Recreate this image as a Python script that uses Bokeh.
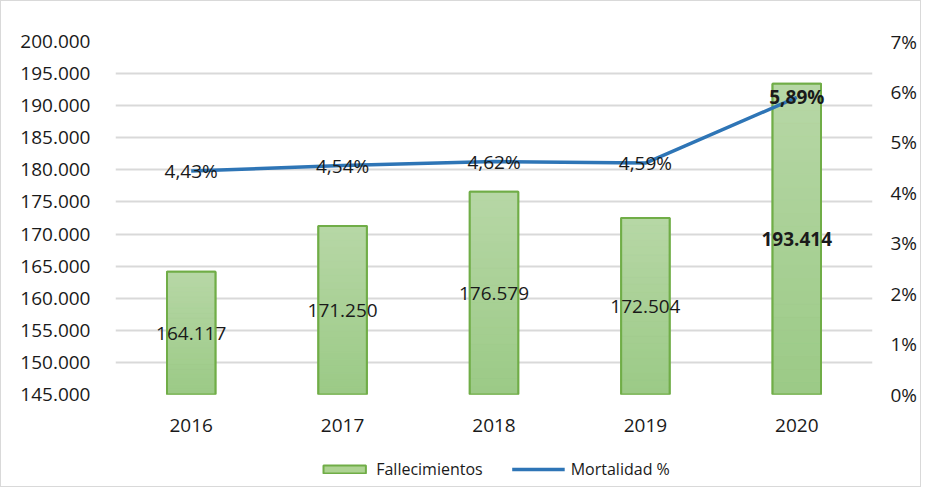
from bokeh.plotting import figure
from bokeh.layouts import column
from bokeh.models import (ColumnDataSource, Range1d, FactorRange, LinearAxis,
                          FixedTicker, Legend, LegendItem)
from bokeh.core.properties import value, field
from bokeh.embed import file_html
from bokeh.resources import INLINE

years = ["2016", "2017", "2018", "2019", "2020"]
deaths = [164117, 171250, 176579, 172504, 193414]
mortality = [4.43, 4.54, 4.62, 4.59, 5.89]
bar_labels = ["164.117", "171.250", "176.579", "172.504", "193.414"]
pct_labels = ["4,43%", "4,54%", "4,62%", "4,59%", "5,89%"]
bold_flags = ["normal", "normal", "normal", "normal", "bold"]
left_ticks = [145000, 150000, 155000, 160000, 165000, 170000, 175000,
              180000, 185000, 190000, 195000, 200000]
left_tick_labels = ["145.000", "150.000", "155.000", "160.000", "165.000",
                    "170.000", "175.000", "180.000", "185.000", "190.000",
                    "195.000", "200.000"]
right_ticks = [0, 1, 2, 3, 4, 5, 6, 7]
right_tick_labels = ["0%", "1%", "2%", "3%", "4%", "5%", "6%", "7%"]
series_names = ["Fallecimientos", "Mortalidad %"]

FONT = "Open Sans"
TXT = "#1a1a1a"
BASE = 145000
BAR_W = 0.32
TOP_RGB = (183, 215, 166)
BOT_RGB = (155, 202, 134)
N_SLICES = 24
NAN = float("nan")

src = ColumnDataSource(dict(
    x=years, top=deaths, bottom=[BASE] * len(years),
    mid=[(BASE + d) / 2 for d in deaths],
    blabel=bar_labels, pct=mortality, plabel=pct_labels, bold=bold_flags,
))

# vertical gradient slices derived from each bar's own extent
gx, gb, gt, gc = [], [], [], []
for yr, d in zip(years, deaths):
    for i in range(N_SLICES):
        f0 = i / N_SLICES
        f1 = (i + 1) / N_SLICES
        fm = (f0 + f1) / 2
        rgb = tuple(int(round(b + (t - b) * fm)) for b, t in zip(BOT_RGB, TOP_RGB))
        gx.append(yr)
        gb.append(BASE + (d - BASE) * f0)
        gt.append(BASE + (d - BASE) * f1)
        gc.append("#%02x%02x%02x" % rgb)
grad = ColumnDataSource(dict(x=gx, bottom=gb, top=gt, color=gc))

p = figure(width=919, height=440, x_range=FactorRange(*years),
           y_range=Range1d(145000, 200000), output_backend="svg",
           toolbar_location=None, min_border_left=114, min_border_right=39,
           min_border_top=40, min_border_bottom=47)
p.extra_y_ranges = {"pct": Range1d(0, 7)}
p.outline_line_color = None

p.xgrid.grid_line_color = None
p.ygrid.grid_line_color = "#d9d9d9"
p.ygrid.grid_line_width = 2
p.ygrid.ticker = FixedTicker(ticks=left_ticks)

p.vbar(x="x", top="top", bottom="bottom", width=BAR_W, source=src,
       fill_color="#a9d18e", line_color="#70ad47", line_width=2)
p.vbar(x="x", top="top", bottom="bottom", width=BAR_W, source=grad,
       fill_color="color", line_color="color", line_width=0.6)
p.vbar(x="x", top="top", bottom="bottom", width=BAR_W, source=src,
       fill_color=None, line_color="#70ad47", line_width=2)
p.line(x="x", y="pct", y_range_name="pct", source=src,
       line_color="#2e75b6", line_width=3.5)

p.text(x="x", y="mid", text="blabel", source=src, text_align="center",
       text_baseline="middle", text_font=value(FONT),
       text_font_size=value("19px"), text_color=TXT,
       text_font_style=field("bold"))
p.text(x="x", y="pct", text="plabel", y_range_name="pct", source=src,
       text_align="center", text_baseline="middle", text_font=value(FONT),
       text_font_size=value("19px"), text_color=TXT,
       text_font_style=field("bold"))

# left axis
ya = p.yaxis[0]
ya.ticker = FixedTicker(ticks=left_ticks)
ya.major_label_overrides = {t: l for t, l in zip(left_ticks, left_tick_labels)}
ya.axis_line_color = None
ya.major_tick_line_color = None
ya.minor_tick_line_color = None
ya.major_label_standoff = 19
ya.major_label_text_font = FONT
ya.major_label_text_font_size = "19px"
ya.major_label_text_color = TXT

# right axis
ra = LinearAxis(y_range_name="pct", ticker=FixedTicker(ticks=right_ticks))
ra.major_label_overrides = {t: l for t, l in zip(right_ticks, right_tick_labels)}
ra.axis_line_color = None
ra.major_tick_line_color = None
ra.minor_tick_line_color = None
ra.major_label_standoff = 12
ra.major_label_text_font = FONT
ra.major_label_text_font_size = "19px"
ra.major_label_text_color = TXT
p.add_layout(ra, "right")

xa = p.xaxis[0]
xa.axis_line_color = None
xa.major_tick_line_color = None
xa.major_label_standoff = 18
xa.major_label_text_font = FONT
xa.major_label_text_font_size = "19px"
xa.major_label_text_color = TXT

# legend strip: a small figure holding the legend swatches
lf = figure(width=919, height=45, x_range=Range1d(0, 1), y_range=Range1d(0, 1),
            x_axis_type=None, y_axis_type=None, output_backend="svg",
            toolbar_location=None, min_border_left=23, min_border_right=0,
            min_border_top=10, min_border_bottom=0)
lf.outline_line_color = None
lf.grid.grid_line_color = None
swatch_bar = ColumnDataSource(dict(x=[NAN], top=[NAN], bottom=[NAN]))
swatch_line = ColumnDataSource(dict(x=[NAN, NAN], y=[NAN, NAN]))
lb = lf.vbar(x="x", top="top", bottom="bottom", width=0.1, source=swatch_bar,
             fill_color="#aed393", line_color="#70ad47", line_width=2)
ll = lf.line(x="x", y="y", source=swatch_line, line_color="#2e75b6",
             line_width=3.5)
legend = Legend(items=[LegendItem(label=series_names[0], renderers=[lb]),
                       LegendItem(label=series_names[1], renderers=[ll])],
                orientation="horizontal", location="center",
                border_line_color=None, background_fill_alpha=0,
                glyph_width=53, glyph_height=10, label_standoff=6,
                spacing=29, label_text_font=FONT, label_text_font_size="16px",
                label_text_color=TXT, margin=0, padding=0)
lf.add_layout(legend)

layout = column(p, lf, spacing=0, styles={"border": "1px solid #d9d9d9"})
open("out.html", "w").write(file_html(layout, INLINE))
